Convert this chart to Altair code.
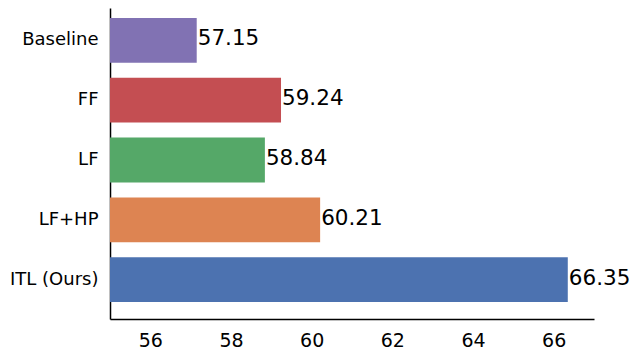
import altair as alt
import pandas as pd

methods = ["Baseline", "FF", "LF", "LF+HP", "ITL (Ours)"]
scores = [57.15, 59.24, 58.84, 60.21, 66.35]
colors = ["#8172B3", "#C44E52", "#55A868", "#DD8452", "#4C72B0"]
x_ticks = [56, 58, 60, 62, 64, 66]
x_domain = [55, 67]

df = pd.DataFrame({
    "method": methods,
    "score": scores,
    "label": [f"{s:.2f}" for s in scores],
})

y = alt.Y(
    "method:N", sort=methods, title=None,
    scale=alt.Scale(paddingInner=0.25, paddingOuter=0.225, align=0.37),
    axis=alt.Axis(ticks=False, labelFontSize=18, labelPadding=12,
                  domainColor="black", domainWidth=1.5, labelColor="black",
                  labelFont="DejaVu Sans"),
)
x = alt.X(
    "score:Q", title=None,
    scale=alt.Scale(domain=x_domain, zero=False, nice=False),
    axis=alt.Axis(values=x_ticks, ticks=False, grid=False, labelFontSize=19,
                  labelPadding=12, domainColor="black", domainWidth=1.5,
                  labelColor="black", labelFont="DejaVu Sans"),
)

bars = alt.Chart(df).mark_bar(opacity=1).encode(
    x=x,
    x2=alt.datum(x_domain[0]),
    y=y,
    color=alt.Color("method:N", scale=alt.Scale(domain=methods, range=colors), legend=None),
)

labels = alt.Chart(df).mark_text(
    align="left", baseline="middle", dx=1, dy=-1, fontSize=21.5, color="black",
    font="DejaVu Sans",
).encode(
    x=alt.X("score:Q"),
    y=alt.Y("method:N", sort=methods),
    text="label:N",
)

chart = alt.layer(bars, labels).properties(
    width=484, height=311,
    autosize=alt.AutoSizeParams(type="none"),
    padding={"left": 102, "top": 0, "right": 38, "bottom": 34},
).configure_view(stroke=None, strokeWidth=0)

chart.save("out.html", embed_options={"renderer": "svg", "actions": False})
